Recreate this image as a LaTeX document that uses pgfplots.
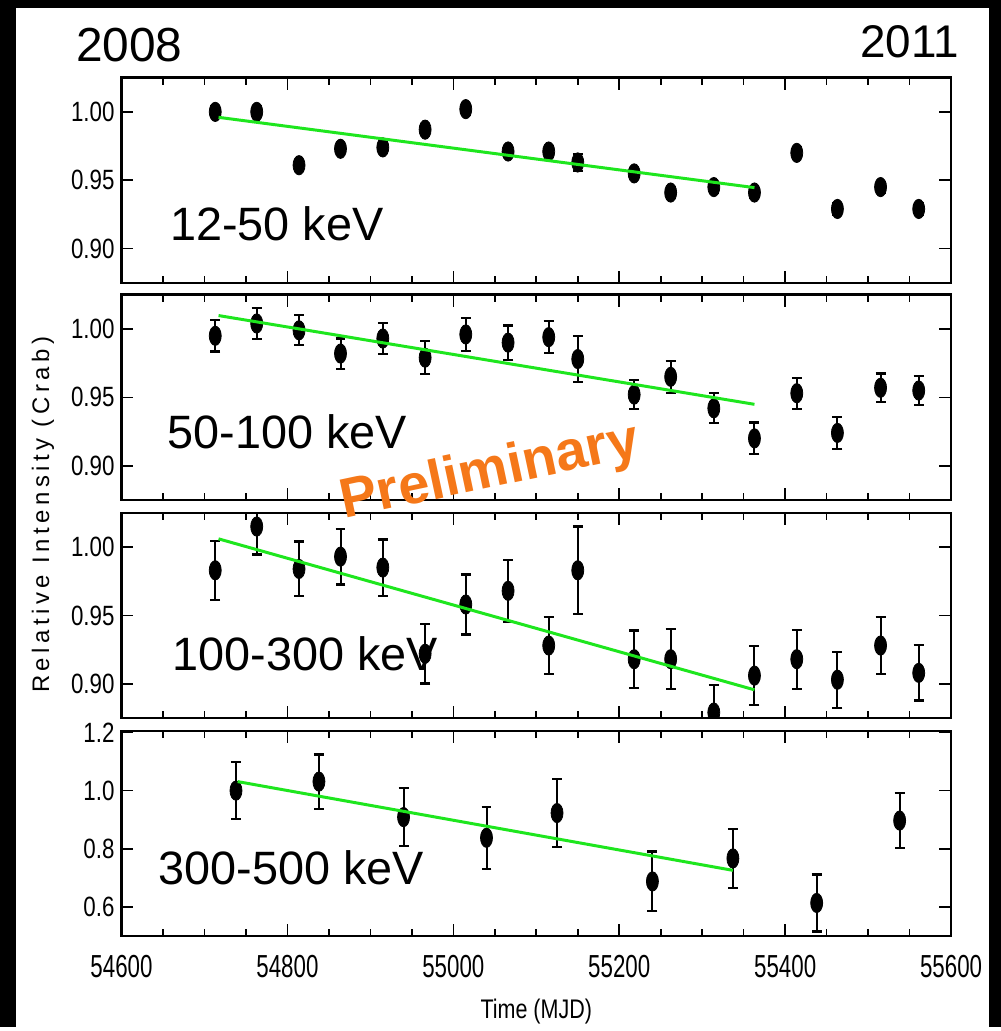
\documentclass[border=0pt]{standalone}
\usepackage{fontspec}
\usepackage{pgfplots}
\usepackage{pgfplotstable}
\pgfplotsset{compat=1.18}
\setmainfont{Liberation Sans}
\newfontfamily\ynarrow[FakeStretch=0.8]{Liberation Sans}
\newfontfamily\xnarrow[FakeStretch=0.7]{Liberation Sans}
\newfontfamily\spaced[LetterSpace=19]{Liberation Sans}

\definecolor{fitgreen}{RGB}{30,230,30}
\definecolor{prelim}{RGB}{245,120,25}

% MJD  rate  err
\pgfplotstableread{
54713 1.000 0.004
54763 1.000 0.004
54814 0.961 0.004
54864 0.973 0.004
54915 0.974 0.004
54966 0.987 0.004
55015 1.002 0.004
55066 0.971 0.004
55115 0.971 0.004
55150 0.963 0.006
55218 0.955 0.004
55262 0.941 0.004
55314 0.945 0.004
55363 0.941 0.004
55414 0.970 0.004
55463 0.929 0.004
55515 0.945 0.004
55561 0.929 0.004
}\bandA
\pgfplotstableread{
54713 0.995 0.0115
54763 1.004 0.0114
54814 0.999 0.011
54864 0.982 0.011
54915 0.993 0.0115
54966 0.979 0.012
55015 0.996 0.012
55066 0.990 0.0125
55115 0.994 0.0118
55150 0.978 0.017
55218 0.952 0.0107
55262 0.965 0.0116
55314 0.942 0.011
55363 0.920 0.0116
55414 0.953 0.0113
55463 0.924 0.0115
55515 0.957 0.0104
55561 0.955 0.0104
}\bandB
\pgfplotstableread{
54713 0.983 0.0216
54763 1.015 0.0205
54814 0.984 0.020
54864 0.993 0.0204
54915 0.985 0.0205
54966 0.922 0.0218
55015 0.958 0.022
55066 0.968 0.0228
55115 0.928 0.021
55150 0.983 0.032
55218 0.918 0.021
55262 0.918 0.022
55314 0.879 0.020
55363 0.906 0.0217
55414 0.918 0.0215
55463 0.903 0.0204
55515 0.928 0.0207
55561 0.908 0.0202
}\bandC
\pgfplotstableread{
54738 1.000 0.098
54838 1.031 0.093
54940 0.909 0.100
55040 0.838 0.106
55125 0.923 0.117
55240 0.688 0.103
55337 0.767 0.101
55438 0.614 0.098
55538 0.897 0.094
}\bandD

\pgfplotsset{
  panel/.style={
    scale only axis, width=416.5pt, height=103pt,
    xmin=54600, xmax=55600,
    xtick={54600,54800,...,55600},
    minor xtick={54650,54700,54750,54850,54900,54950,55050,55100,55150,55250,55300,55350,55450,55500,55550},
    xticklabels={}, scaled x ticks=false,
    ymin=0.875, ymax=1.025, ytick={0.90,0.95,1.00},
    tick align=inside, tick pos=both,
    major tick length=6pt, minor tick length=3.5pt,
    axis line style={line width=1.3pt},
    every tick/.style={black, line width=0.8pt},
    yticklabel pos=left,
    yticklabel style={font=\ynarrow\fontsize{14pt}{16pt}\selectfont,
      /pgf/number format/.cd, fixed, fixed zerofill, precision=2},
    /pgf/number format/assume math mode=true,
    clip marker paths=true,
  },
  pts/.style={only marks, mark=*, mark size=4.85pt,
    mark options={black, fill=black, xscale=0.62},
    error bars/.cd, y dir=both, y explicit, error mark=-,
    error bar style={black, line width=1pt},
    error mark options={rotate=90, black, mark size=2.5pt, line width=1.1pt}},
  fitline/.style={fitgreen, line width=1.5pt},
}
\tikzset{band/.style={anchor=base west, inner sep=0pt, font=\fontsize{23.5pt}{25pt}\selectfont}}

\begin{document}
\begin{tikzpicture}
\fill[black] (0,0) rectangle (502.5pt,515.5pt);
\fill[white] (8pt,0) rectangle (496.5pt,511.5pt);
\node[anchor=base west, font=\fontsize{24pt}{26pt}\selectfont, inner sep=0pt] at (38pt,484.5pt) {2008};
\node[anchor=base east, font=\fontsize{23pt}{25pt}\selectfont, inner sep=0pt] at (481.5pt,486.5pt) {2011};

\begin{axis}[panel, at={(61pt,373.5pt)}]
\addplot[pts] table[x index=0, y index=1, y error index=2] {\bandA};
\addplot[fitline] coordinates {(54717,0.996) (55363,0.9446)};
\node[band] at (rel axis cs:0.058,0.204) {12-50 keV};
\end{axis}

\begin{axis}[panel, at={(61pt,264.5pt)}]
\addplot[pts] table[x index=0, y index=1, y error index=2] {\bandB};
\addplot[fitline] coordinates {(54717,1.0098) (55363,0.9449)};
\node[band] at (rel axis cs:0.055,0.252) {50-100 keV};
\end{axis}

\begin{axis}[panel, at={(61pt,155pt)}]
\addplot[pts] table[x index=0, y index=1, y error index=2] {\bandC};
\addplot[fitline] coordinates {(54717,1.006) (55363,0.8956)};
\node[band] at (rel axis cs:0.061,0.233) {100-300 keV};
\end{axis}

\begin{axis}[panel, at={(61pt,45.5pt)},
  ymin=0.5, ymax=1.205, ytick={0.6,0.8,1.0,1.2},
  yticklabel style={/pgf/number format/precision=1},
  xticklabels={54600,54800,55000,55200,55400,55600},
  xticklabel style={font=\xnarrow\fontsize{16pt}{18pt}\selectfont, yshift=-6pt},
  xlabel={Time (MJD)},
  xlabel style={font=\ynarrow\fontsize{13.5pt}{15pt}\selectfont, yshift=-4pt}]
\addplot[pts] table[x index=0, y index=1, y error index=2] {\bandD};
\addplot[fitline] coordinates {(54740,1.031) (55337,0.726)};
\node[band] at (rel axis cs:0.044,0.254) {300-500 keV};
\end{axis}

\node[rotate=90, font=\spaced\fontsize{12pt}{14pt}\selectfont] at (21.5pt,257pt) {Relative Intensity (Crab)};
\node[rotate=12, text=prelim, font=\bfseries\fontsize{28pt}{30pt}\selectfont] at (246pt,278pt) {Preliminary};
\end{tikzpicture}
\end{document}
